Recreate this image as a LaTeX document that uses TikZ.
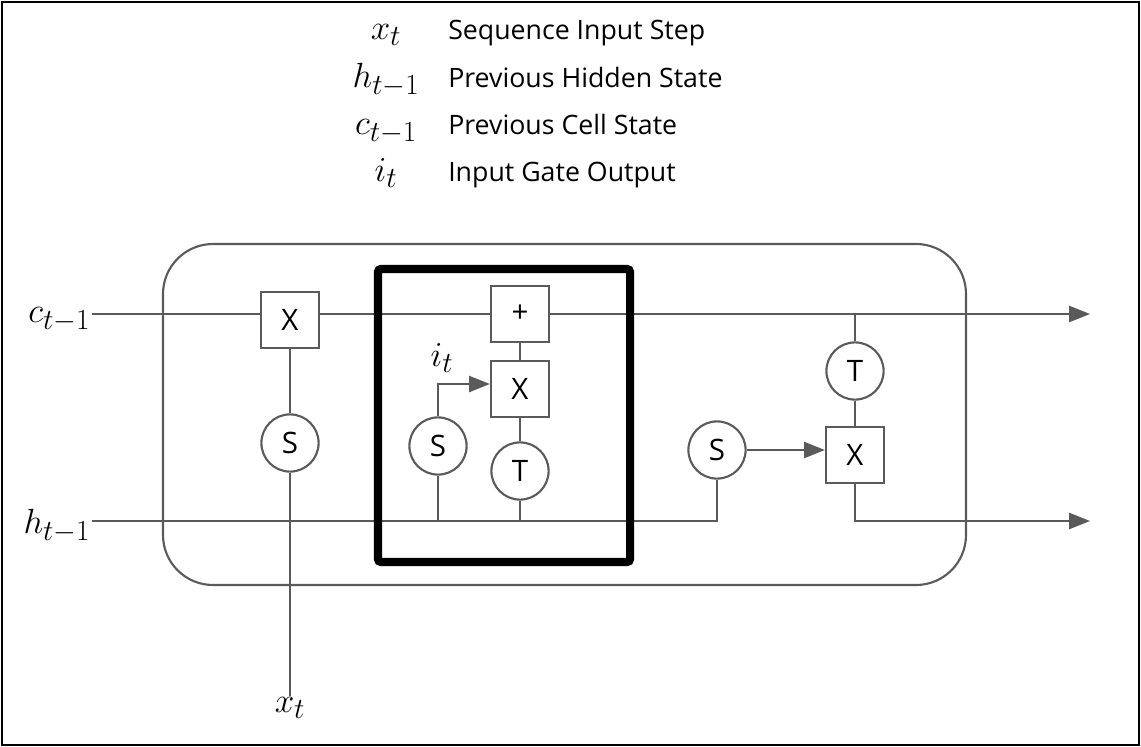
\documentclass[tikz,border=0pt]{standalone}
\usepackage{fontspec}
\usepackage{tikz}
\usetikzlibrary{arrows.meta,calc}
\newfontfamily\opfont{Open Sans}
\DeclareMathSizes{25}{25}{21}{16}
\definecolor{wiregray}{RGB}{90,90,90}

\begin{document}
\begin{tikzpicture}[
x=0.025cm, y=-0.025cm,
wire/.style={draw=wiregray, line width=1.5pt},
arr/.style={wire, -{Triangle[length=5.2mm, width=4mm]}},
opbox/.style={wire, fill=white, minimum width=1.45cm, minimum height=1.4cm, inner sep=0pt, font=\opfont\fontsize{21}{24}\selectfont},
gate/.style={wire, circle, fill=white, minimum size=1.43cm, inner sep=0pt, font=\opfont\fontsize{21}{24}\selectfont},
lbl/.style={font=\fontsize{25}{30}\selectfont, inner sep=1pt},
legtxt/.style={font=\opfont\fontsize{19}{22}\selectfont, anchor=base west, inner sep=0pt}
]
\useasboundingbox (0,0) rectangle (1141,747);
\draw[line width=2.1pt] (2,2) rectangle (1139,745);

% legend
\foreach \sym/\txt/\row [count=\i] in {x_t/Sequence Input Step/40, h_{t-1}/Previous Hidden State/88, c_{t-1}/Previous Cell State/135, i_t/Input Gate Output/182} {
  \node[lbl, anchor=base] (lsym\i) at (386,\row) {$\sym$};
  \node[legtxt] (ltxt\i) at (448,\row) {\txt};
}

% cell
\draw[wire, rounded corners=1.25cm] (163,244) rectangle (966,585);

\node[lbl, anchor=east] (clab) at (92,320) {$c_{t-1}$};
\node[lbl, anchor=east] (hlab) at (92,526) {$h_{t-1}$};
\node[lbl, anchor=north] (xlab) at (290,696) {$x_t$};
\coordinate (cout) at (1090,314);
\coordinate (hout) at (1090,521);
\coordinate (hj) at (717,521);

% forget gate
\node[opbox] (fX) at (290,320) {X};
\node[gate] (fS) at (290,443) {S};
% input gate
\node[opbox] (plus) at (520,314) {+};
\node[opbox] (iX) at (520,389) {X};
\node[gate] (iT) at (520,471) {T};
\node[gate] (iS) at (438,446) {S};
\node[lbl] (ilab) at (442,358) {$i_t$};
% output gate
\node[gate] (oS) at (717,450) {S};
\node[gate] (oT) at (855,371) {T};
\node[opbox] (oX) at (855,455) {X};

\draw[wire] (clab.east |- plus) -- (fX.west |- plus);
\draw[wire] (fX.east |- plus) -- (plus.west);
\draw[arr] (plus.east) -- (cout);
\draw[wire] (hlab.east |- hj) -- (hj) -- (oS.south);
\draw[wire] (xlab.north) -- (fS.south);
\draw[wire] (fS.north) -- (fX.south);
\draw[wire] (plus.south) -- (iX.north);
\draw[wire] (iX.south) -- (iT.north);
\draw[wire] (iT.south) -- (iT |- hj);
\draw[wire] (iS.south) -- (iS |- hj);
\draw[arr] (iS.north) |- ($(iX.west)+(0,-5)$);
\draw[arr] (oS.east) -- (oS.east -| oX.west);
\draw[wire] (oT |- plus) -- (oT.north);
\draw[wire] (oT.south) -- (oX.north);
\draw[arr] (oX.south) |- (hout);

\draw[line width=5.7pt, rounded corners=2pt] (378,269) rectangle (630,562);
\end{tikzpicture}
\end{document}
